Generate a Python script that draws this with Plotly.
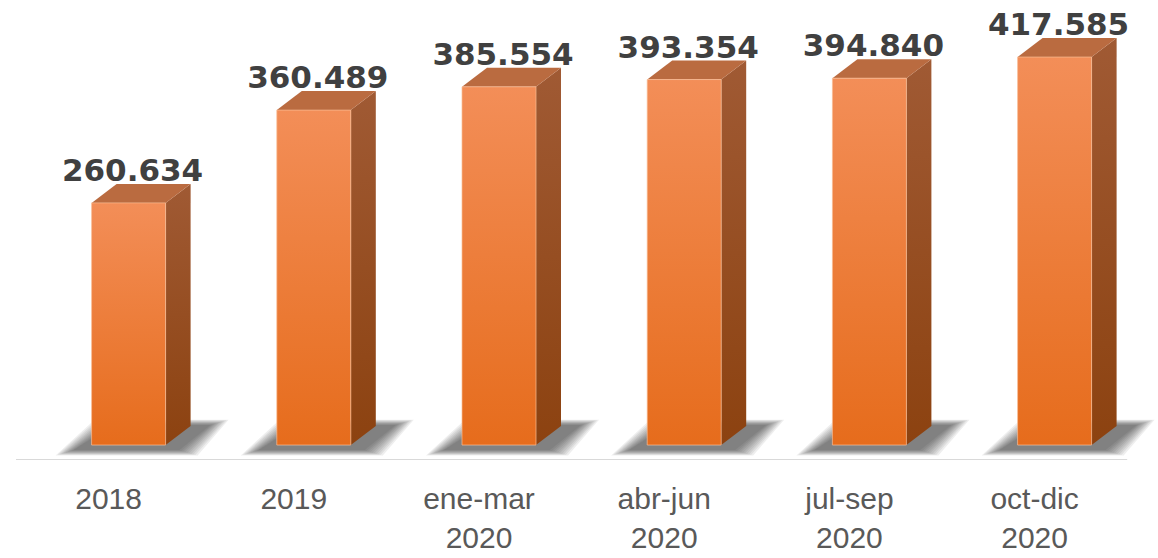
import plotly.graph_objects as go

# datos
categorias = ["2018", "2019", "ene-mar<br>2020", "abr-jun<br>2020", "jul-sep<br>2020", "oct-dic<br>2020"]
valores = [260634, 360489, 385554, 393354, 394840, 417585]
etiquetas = ["260.634", "360.489", "385.554", "393.354", "394.840", "417.585"]

# escala (para simular las barras 3D)
Y_MIN, Y_MAX = -16100, 479000
PX_X = 1 / 185.2                  # unidades de categoria por pixel
PX_Y = (Y_MAX - Y_MIN) / 460      # unidades de valor por pixel
X_MIN = -0.5 - 16 * PX_X
X_MAX = -0.5 + (1158 - 16) * PX_X

x_izq, x_der = -17 * PX_X, 57 * PX_X
dx, dy = 25 * PX_X, 19 * PX_Y

fig = go.Figure()

# sombras difusas
for i, v in enumerate(valores):
    for b in range(18, -1, -2):
        e = b * PX_X
        fy = b * 0.3 * PX_Y
        xs = [i + x_izq - 18 * PX_X - e, i + x_der + 14 * PX_X + e,
              i + x_der + dx + 20 * PX_X + e, i + x_izq + dx - 4 * PX_X - e]
        ys = [-5 * PX_Y - fy, -5 * PX_Y - fy, dy + 1 * PX_Y + fy, dy + 1 * PX_Y + fy]
        fig.add_trace(go.Scatter(x=xs + xs[:1], y=ys + ys[:1], mode="lines", fill="toself",
                                 fillcolor="rgba(30,30,30,0.075)", line=dict(width=0),
                                 hoverinfo="skip", showlegend=False))

# cara lateral
for i, v in enumerate(valores):
    xs = [i + x_der, i + x_der + dx, i + x_der + dx, i + x_der, i + x_der]
    ys = [0, dy, v + dy, v, 0]
    fig.add_trace(go.Scatter(x=xs, y=ys, mode="lines", fill="toself",
                             fillgradient=dict(type="vertical",
                                               colorscale=[[0, "rgb(140,66,16)"], [1, "rgb(160,90,52)"]]),
                             line=dict(width=0), hoverinfo="skip", showlegend=False))

# cara superior
for i, v in enumerate(valores):
    xs = [i + x_izq, i + x_der, i + x_der + dx, i + x_izq + dx, i + x_izq]
    ys = [v, v, v + dy, v + dy, v]
    fig.add_trace(go.Scatter(x=xs, y=ys, mode="lines", fill="toself",
                             fillcolor="rgb(186,107,64)",
                             line=dict(width=0), hoverinfo="skip", showlegend=False))

# cara frontal
for i, v in enumerate(valores):
    xs = [i + x_izq, i + x_der, i + x_der, i + x_izq, i + x_izq]
    ys = [0, 0, v, v, 0]
    fig.add_trace(go.Scatter(x=xs, y=ys, mode="lines", fill="toself",
                             fillgradient=dict(type="vertical",
                                               colorscale=[[0, "rgb(230,108,28)"], [1, "rgb(243,142,88)"]]),
                             line=dict(width=1, color="rgba(250,190,150,0.7)"),
                             hoverinfo="skip", showlegend=False))

# etiquetas de datos
fig.add_trace(go.Scatter(
    x=[i + 24 * PX_X for i in range(len(valores))],
    y=[v + dy - 5 * PX_Y for v in valores],
    mode="text", text=etiquetas, textposition="top center", cliponaxis=False,
    textfont=dict(family="DejaVu Sans", size=31, color="#404040", weight="bold"),
    hoverinfo="skip", showlegend=False))

# linea del eje
fig.add_shape(type="line", xref="x", yref="y", x0=-0.5, x1=len(categorias) - 0.5,
              y0=Y_MIN, y1=Y_MIN, line=dict(color="#d9d9d9", width=2))

fig.update_layout(
    width=1158, height=558,
    margin=dict(l=0, r=0, t=0, b=98),
    paper_bgcolor="white", plot_bgcolor="white",
    xaxis=dict(range=[X_MIN, X_MAX], tickvals=list(range(len(categorias))), ticktext=categorias,
               showline=False, showgrid=False, zeroline=False,
               ticks="outside", ticklen=12, tickcolor="rgba(0,0,0,0)", automargin=False,
               tickfont=dict(family="Liberation Sans", size=30, color="#595959")),
    yaxis=dict(range=[Y_MIN, Y_MAX], visible=False, showgrid=False, zeroline=False),
)

fig.write_html("out.html", config={"displayModeBar": False},
               post_script="document.body.style.margin='0';")
